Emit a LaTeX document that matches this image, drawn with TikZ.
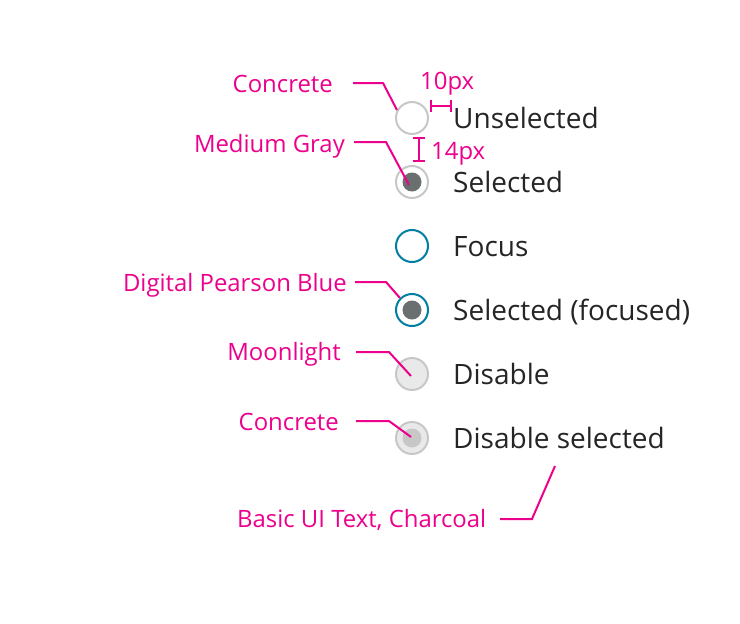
\documentclass[tikz,border=0pt]{standalone}
\usepackage{fontspec}
\setmainfont{Open Sans}
\usepackage{tikz}
\usetikzlibrary{calc, positioning}
\definecolor{concrete}{HTML}{C7C7C7}
\definecolor{mediumgray}{HTML}{6A7070}
\definecolor{pearsonblue}{HTML}{007FA3}
\definecolor{moonlight}{HTML}{E9E9E9}
\definecolor{charcoal}{HTML}{252525}
\definecolor{notepink}{HTML}{EC008C}
\tikzset{
  radio/.style={circle, draw=concrete, line width=2pt, minimum size=32pt, inner sep=0pt},
  dot/.style={circle, fill=mediumgray, minimum size=19pt, inner sep=0pt},
  rowtext/.style={anchor=base west, inner sep=0pt, text=charcoal, font=\fontsize{28}{33}\selectfont},
  note/.style={anchor=base east, inner sep=0pt, text=notepink, font=\fontsize{23.9}{28}\selectfont},
  lead/.style={draw=notepink, line width=2pt},
}

\begin{document}
\begin{tikzpicture}[x=1pt, y=-1pt]
  \useasboundingbox[fill=white] (0,0) rectangle (740,624);
  % radio buttons
  \node[radio] (r1) at (412,118) {};
  \node[radio] (r2) at (412,182) {};
  \node[dot] (d2) at (r2) {};
  \node[radio, draw=pearsonblue] (r3) at (412,246) {};
  \node[radio, draw=pearsonblue] (r4) at (412,310) {};
  \node[dot] (d4) at (r4) {};
  \node[radio, fill=moonlight] (r5) at (412,374) {};
  \node[radio, fill=moonlight] (r6) at (412,438) {};
  \node[dot, fill=concrete] (d6) at (r6) {};
  % row texts
  \node[rowtext] (t1) at (453,128) {Unselected};
  \node[rowtext] (t2) at (453,192) {Selected};
  \node[rowtext] (t3) at (453,256) {Focus};
  \node[rowtext] (t4) at (453,320) {Selected (focused)};
  \node[rowtext] (t5) at (453,384) {Disable};
  \node[rowtext] (t6) at (453,448) {Disable selected};
  % colour notes
  \node[note] (n1) at (333,92) {Concrete};
  \node[note] (n2) at (345,152) {Medium Gray};
  \node[note] (n3) at (347,291) {Digital Pearson Blue};
  \node[note] (n4) at (341,360) {Moonlight};
  \node[note] (n5) at (339,430) {Concrete};
  \node[note, anchor=base west] (n6) at (237,527) {Basic UI Text, Charcoal};
  \draw[lead] (353,83) coordinate (a1) -- (383,83) -- (r1.152);
  \draw[lead] (354,142) coordinate (a2) -- (386,142) -- ($(d2)+(-3,3)$);
  \draw[lead] (355,282) coordinate (a3) -- (386,282) -- (r4.135);
  \draw[lead] (356,352) coordinate (a4) -- (389,352) -- ($(r5)+(-1,2)$);
  \draw[lead] (356,421) coordinate (a5) -- (389,421) -- ($(d6)+(-1,-1)$);
  \coordinate (e6) at (555,466);
  \draw[lead] (500,519) coordinate (a6) -- (532,519) -- (e6);
  % spacing marks
  \draw[lead] (431,106) -- (451,106);
  \draw[lead] (431,100) -- (431,112) (451,100) -- (451,112);
  \node[note, anchor=base west] (m1) at (420,89) {10px};
  \draw[lead] (419,138) -- (419,161);
  \draw[lead] (413,138) -- (425,138) (413,161) -- (425,161);
  \node[note, anchor=base west] (m2) at (431,159) {14px};
\end{tikzpicture}
\end{document}
